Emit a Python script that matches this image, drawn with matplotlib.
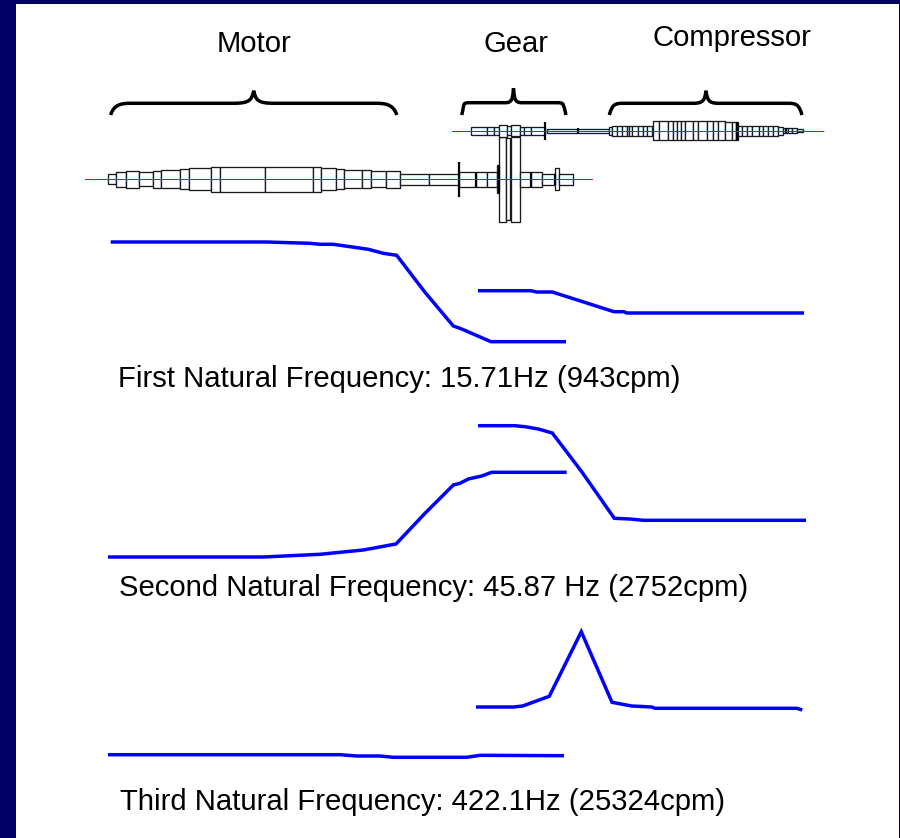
import matplotlib
matplotlib.use("Agg")
import matplotlib.pyplot as plt
from matplotlib.path import Path
from matplotlib.patches import PathPatch, Rectangle

NAVY = "#000066"
BLUE = "#0000ff"
plt.rcParams["font.family"] = ["Liberation Sans", "DejaVu Sans"]

# Mode shapes (x, y, in picture pixels)
m1_low_x = [110.7, 266.7, 310, 320, 333.3, 368.3, 383.3, 396.7, 425, 453.3, 460, 491, 566]
m1_low_y = [242, 242, 243.3, 244.3, 244.3, 249.3, 253.3, 255.3, 292.3, 326, 328.3, 341.7, 341.7]
m1_high_x = [478, 530.7, 536.7, 552.3, 614, 624, 626.7, 804]
m1_high_y = [290.7, 290.7, 292, 292, 311.7, 311.7, 313, 313]
m2_low_x = [108, 263.3, 320, 363.3, 396, 425, 453.3, 460, 468.3, 481.7, 491.7, 566.7]
m2_low_y = [557, 557, 554.3, 550, 544, 513.3, 485, 483.3, 479, 476, 472.3, 472.3]
m2_high_x = [478, 515, 525, 538.3, 552.3, 581.7, 614.3, 630, 643.3, 806]
m2_high_y = [425.7, 425.7, 426.7, 429, 433, 471.7, 518.3, 519, 520.3, 520.3]
m3_low_x = [108, 340, 356.7, 380, 393.3, 466.7, 480, 564]
m3_low_y = [754.7, 754.7, 756, 756, 757.3, 757.3, 755.3, 755.7]
m3_high_x = [476, 513.3, 522.7, 549.3, 581.3, 612, 631.7, 651.7, 655, 796.7, 802.3]
m3_high_y = [707, 707, 706, 696.3, 631.7, 702.3, 706, 707, 708.3, 708.3, 710]

# Rotor sections: left edge, right edge, half height
low_center = 179.3
low_sections = [
    (107.7, 116.3, 4.8), (116.3, 125.7, 7.5), (125.7, 138.7, 8.3), (138.7, 153.3, 7),
    (153.3, 161.3, 8.7), (161.3, 180, 9), (180, 188.7, 10), (188.7, 210.7, 11.2),
    (210.7, 220, 12.5), (220, 265.3, 12.5), (265.3, 312.7, 12.5), (312.7, 321.3, 12.5),
    (321.3, 335.7, 11.2), (335.7, 344, 10), (344, 362, 9), (362, 370.7, 8.8),
    (370.7, 386, 7.8), (386, 400, 8.7), (400, 429.3, 5.5), (429.3, 459, 5.5),
    (459, 475.7, 7.5), (475.7, 487.3, 7.5), (487.3, 496.7, 7.5), (496.7, 499, 14),
    (498.7, 506.3, 42.5), (506.3, 510.3, 41), (511.3, 519.7, 42.5), (519.7, 530.7, 7.5),
    (530.7, 542.3, 7.5), (542.3, 555, 5.5), (555, 559, 11), (559, 572.7, 5.5),
]
high_center = 131
high_sections = [
    (471, 487.3, 4), (487.3, 494, 4), (494, 499, 4), (499, 506.7, 5.7), (506.7, 511.3, 4.5),
    (511.3, 519.7, 5.5), (519.7, 524.3, 4), (524.3, 530.7, 4), (530.7, 545, 4),
    (546.7, 609, 2.3), (609, 611.7, 4), (611.7, 616.7, 5.3), (616.7, 621.7, 5.3),
    (621.7, 626.7, 5.3), (626.7, 629.3, 5.3), (629.3, 632, 5.3), (632, 638.3, 5.3),
    (638.3, 642.7, 5.3), (642.7, 646.7, 5.3), (646.7, 651.7, 5.3), (652.7, 659.3, 9.5),
    (659.3, 668.3, 9.5), (668.3, 673.3, 9.5), (673.3, 677.3, 9.5), (677.3, 680.7, 9.5),
    (680.7, 685, 9.5), (685, 692.7, 9.5), (692.7, 698.3, 9.5), (698.3, 706.7, 9.5),
    (706.7, 712.7, 9.5), (712.7, 718.3, 9.5), (718.3, 725, 9.5), (725, 731.7, 8.8),
    (731.7, 736, 8.8), (736, 738.3, 8.8), (738.3, 741.7, 5.3), (741.7, 746.7, 5.3),
    (746.7, 751.7, 5.3), (751.7, 759.3, 5.3), (759.3, 763.3, 5.3), (763.3, 768.3, 5.3),
    (768.3, 772.7, 5.3), (772.7, 777.7, 5.3), (777.7, 783.3, 3.7), (783.3, 788.3, 2.5),
    (788.3, 791.7, 2.5), (791.7, 796.7, 2.5), (796.7, 802.7, 1.5),
]
# Heavy marks along the shafts: x, half height
low_marks = [(459, 17.5), (475.7, 7.5), (530.7, 7.5), (555, 5.5), (499, 14)]
high_marks = [(545, 9), (577.7, 2.7), (736.7, 8.8), (786, 2.5)]
low_axis_x = [84.7, 591.7]
high_axis_x = [452.3, 823.3]

# Braces: end, bar start, bar end, tip, bar start, bar end, end
brace_motor_x = [110.7, 130, 233, 253.7, 274.4, 376.7, 396.7]
brace_motor_y = [115, 103.3, 103.3, 90.7, 103.3, 103.3, 115]
brace_gear_x = [461.7, 470, 505, 513.5, 522, 556.7, 566]
brace_gear_y = [115, 102.7, 102.7, 88.5, 102.7, 102.7, 115]
brace_comp_x = [609.3, 623, 693, 706, 719, 788, 802]
brace_comp_y = [115, 103.3, 103.3, 90.7, 103.3, 103.3, 115]

labels = ["Motor", "Gear", "Compressor"]
label_x = [254, 516, 732]
label_y = [43.5, 43.5, 37.5]
captions = ["First Natural Frequency: 15.71Hz (943cpm)",
            "Second Natural Frequency: 45.87 Hz (2752cpm)",
            "Third Natural Frequency: 422.1Hz (25324cpm)"]
caption_x = [118, 119, 120]
caption_y = [378.5, 587.5, 801.5]

fig = plt.figure(figsize=(9, 8.38), dpi=100, facecolor=NAVY)
ax = fig.add_axes([0, 0, 1, 1])
ax.set_xlim(0, 900)
ax.set_ylim(838, 0)
ax.axis("off")
ax.add_patch(Rectangle((16, 4), 883, 834, fc="white", ec="none", zorder=0))

def rotor(sections, marks, center, axis_x):
    for left, right, half in sections:
        ax.add_patch(Rectangle((left, center - half), right - left, 2 * half,
                               fc="white", ec="#1a1a1a", lw=0.95, zorder=2))
    for x, half in marks:
        ax.plot([x, x], [center - half, center + half], color="black", lw=1.6,
                solid_capstyle="butt", zorder=3)
    ax.plot(axis_x, [center, center], color="#e00000", lw=0.7, zorder=4)

rotor(low_sections, low_marks, low_center, low_axis_x)
rotor(high_sections, high_marks, high_center, high_axis_x)

def brace(xs, ys):
    w = xs[3] - xs[2]
    verts = [(xs[0], ys[0]), (xs[0] + 3, ys[1] + 1), (xs[1] - 8, ys[1]), (xs[1], ys[1]),
             (xs[2], ys[2]),
             (xs[2] + 0.8 * w, ys[2]), (xs[3] - 0.1 * w, ys[2] - 3), (xs[3], ys[3]),
             (xs[3] + 0.1 * w, ys[4] - 3), (xs[4] - 0.8 * w, ys[4]), (xs[4], ys[4]),
             (xs[5], ys[5]),
             (xs[5] + 8, ys[5]), (xs[6] - 3, ys[5] + 1), (xs[6], ys[6])]
    codes = [Path.MOVETO, Path.CURVE4, Path.CURVE4, Path.CURVE4, Path.LINETO,
             Path.CURVE4, Path.CURVE4, Path.CURVE4, Path.CURVE4, Path.CURVE4, Path.CURVE4,
             Path.LINETO, Path.CURVE4, Path.CURVE4, Path.CURVE4]
    ax.add_patch(PathPatch(Path(verts, codes), fc="none", ec="black", lw=2.5,
                           capstyle="butt", joinstyle="miter", zorder=3))

brace(brace_motor_x, brace_motor_y)
brace(brace_gear_x, brace_gear_y)
brace(brace_comp_x, brace_comp_y)

for xs, ys in [(m1_low_x, m1_low_y), (m1_high_x, m1_high_y), (m2_low_x, m2_low_y),
               (m2_high_x, m2_high_y), (m3_low_x, m3_low_y), (m3_high_x, m3_high_y)]:
    ax.plot(xs, ys, color=BLUE, lw=2.5, solid_capstyle="butt", solid_joinstyle="miter", zorder=5)

for text, x, y in zip(labels, label_x, label_y):
    ax.text(x, y, text, ha="center", va="center", fontsize=21.1, color="black")
for text, x, y in zip(captions, caption_x, caption_y):
    ax.text(x, y, text, ha="left", va="center", fontsize=21.1, color="black")

fig.savefig("out.png", dpi=100, facecolor=NAVY)
